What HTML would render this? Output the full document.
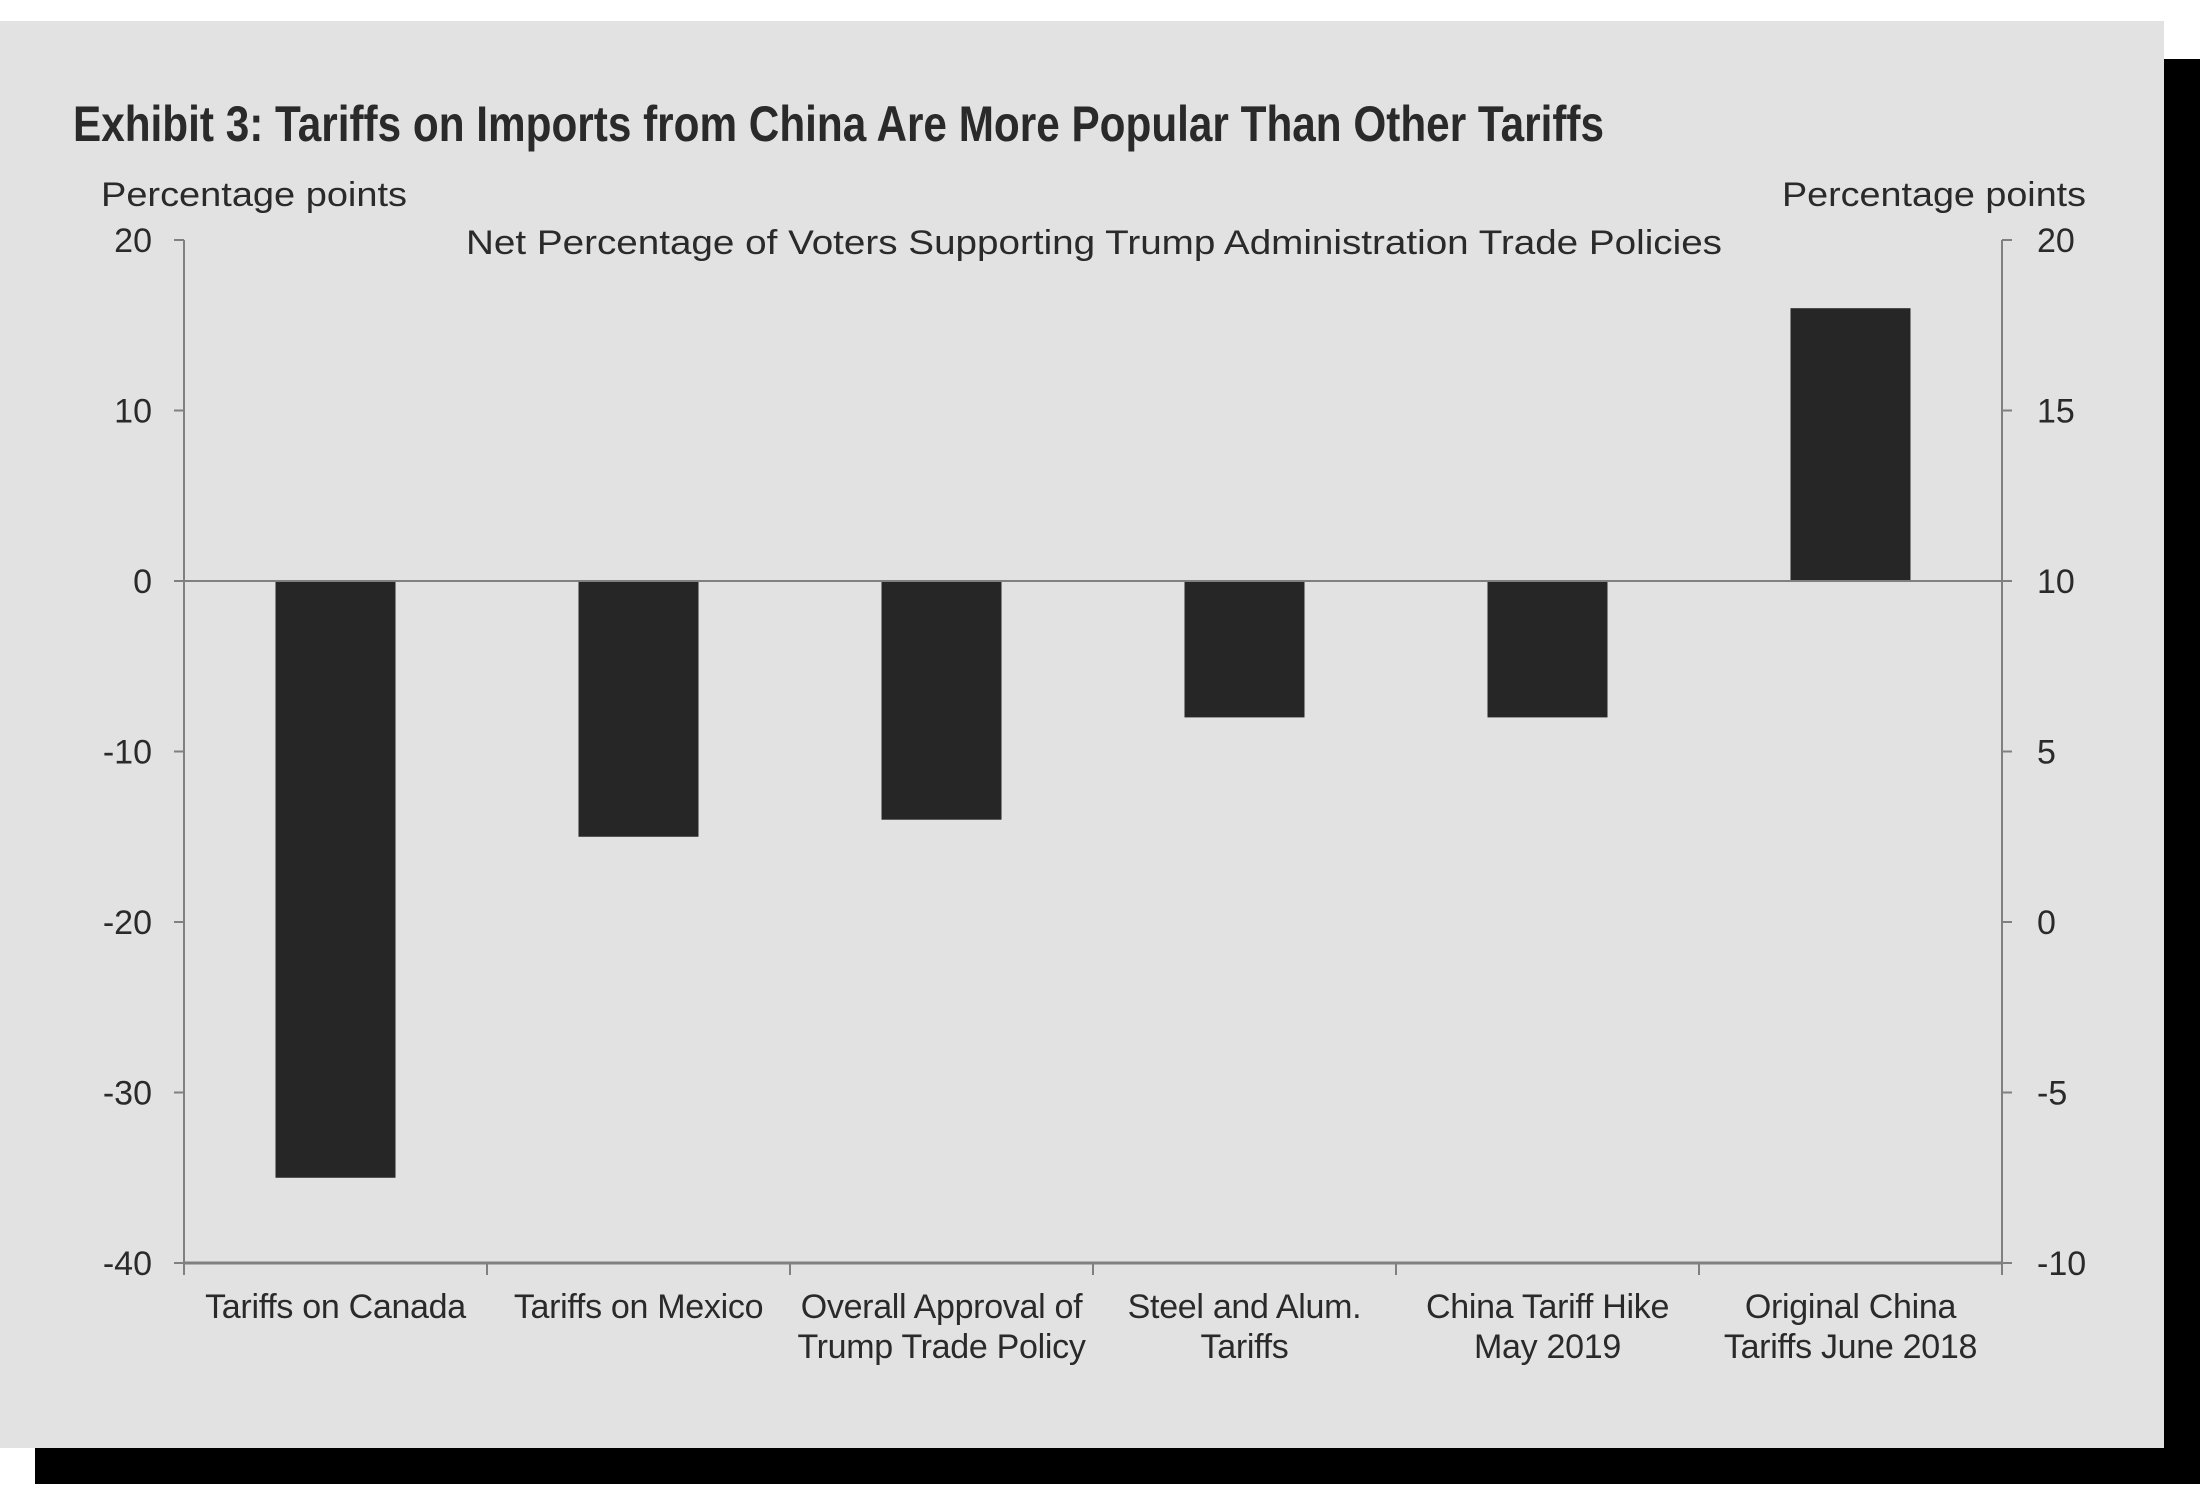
<!DOCTYPE html>
<html><head><meta charset="utf-8"><style>
html,body{margin:0;padding:0;background:#fff;}
svg{display:block;}
text{font-family:"Liberation Sans",sans-serif;fill:#2a2a2a;}
</style></head><body>
<svg id="chart" width="2200" height="1500" viewBox="0 0 2200 1500">
<rect x="2164" y="59" width="36" height="1425" fill="#000"/>
<rect x="35" y="1448" width="2165" height="36" fill="#000"/>
<rect x="0" y="21" width="2164" height="1427" fill="#e2e2e2"/>
<text x="73" y="141" font-size="50" font-weight="bold" textLength="1531" lengthAdjust="spacingAndGlyphs">Exhibit 3: Tariffs on Imports from China Are More Popular Than Other Tariffs</text>
<text x="101" y="206" font-size="34" textLength="306" lengthAdjust="spacingAndGlyphs">Percentage  points</text>
<text x="1782" y="206" font-size="34" textLength="304" lengthAdjust="spacingAndGlyphs">Percentage  points</text>
<text x="466" y="254" font-size="34" textLength="1256" lengthAdjust="spacingAndGlyphs">Net Percentage  of Voters Supporting  Trump  Administration Trade  Policies</text>
<g id="plot"></g>
</svg>
<script>
const categories = [["Tariffs on Canada"],["Tariffs on Mexico"],["Overall Approval of","Trump Trade Policy"],["Steel and Alum.","Tariffs"],["China Tariff Hike","May 2019"],["Original China","Tariffs June 2018"]];
const values = [-35, -15, -14, -8, -8, 16];
const leftTicks = [20, 10, 0, -10, -20, -30, -40];
const rightTicks = [20, 15, 10, 5, 0, -5, -10];

const NS = "http://www.w3.org/2000/svg";
const g = document.getElementById('plot');
const X0 = 184, X1 = 2002, Y0 = 240, Y1 = 1263;
const yMin = -40, yMax = 20, rMin = -10, rMax = 20;
const yL = v => Y1 - (v - yMin) / (yMax - yMin) * (Y1 - Y0);
const yR = v => Y1 - (v - rMin) / (rMax - rMin) * (Y1 - Y0);
const bandW = (X1 - X0) / categories.length;
const xC = i => X0 + bandW * (i + 0.5);
function mk(tag, attrs) { const e = document.createElementNS(NS, tag); for (const k in attrs) e.setAttribute(k, attrs[k]); g.appendChild(e); return e; }
const axisColor = "#808080";

values.forEach((v, i) => {
  const y = Math.min(yL(v), yL(0)), h = Math.abs(yL(v) - yL(0));
  const r = mk('rect', {x: xC(i) - 60, y: y, width: 120, height: h, fill: '#262626'});
  
  
});
const zl = mk('line', {x1: X0, x2: X1, y1: yL(0), y2: yL(0), stroke: axisColor, 'stroke-width': 2});


const la = mk('line', {x1: X0, x2: X0, y1: Y0, y2: Y1, stroke: axisColor, 'stroke-width': 2});


const ra = mk('line', {x1: X1, x2: X1, y1: Y0, y2: Y1, stroke: axisColor, 'stroke-width': 2});


const ba = mk('line', {x1: X0, x2: X1, y1: Y1, y2: Y1, stroke: axisColor, 'stroke-width': 3});



leftTicks.forEach(t => {
  const y = yL(t);
  const tk = mk('line', {x1: X0 - 10, x2: X0, y1: y, y2: y, stroke: axisColor, 'stroke-width': 2});
  
  
  const tx = mk('text', {x: 152, y: y + 12, 'font-size': 34, 'text-anchor': 'end'});
  tx.textContent = t;
  
  
});
rightTicks.forEach(t => {
  const y = yR(t);
  const tk = mk('line', {x1: X1, x2: X1 + 10, y1: y, y2: y, stroke: axisColor, 'stroke-width': 2});
  
  
  const tx = mk('text', {x: 2037, y: y + 12, 'font-size': 34});
  tx.textContent = t;
  
  
});
for (let i = 0; i <= categories.length; i++) {
  const x = X0 + bandW * i;
  const tk = mk('line', {x1: x, x2: x, y1: Y1, y2: Y1 + 12, stroke: axisColor, 'stroke-width': 2});
  
  
}
categories.forEach((lines, i) => {
  lines.forEach((s, j) => {
    const tx = mk('text', {x: xC(i), y: 1318 + j * 40, 'font-size': 34, 'text-anchor': 'middle', 'letter-spacing': '-0.3'});
    tx.textContent = s;
    
    
  });
});
</script>
</body></html>
